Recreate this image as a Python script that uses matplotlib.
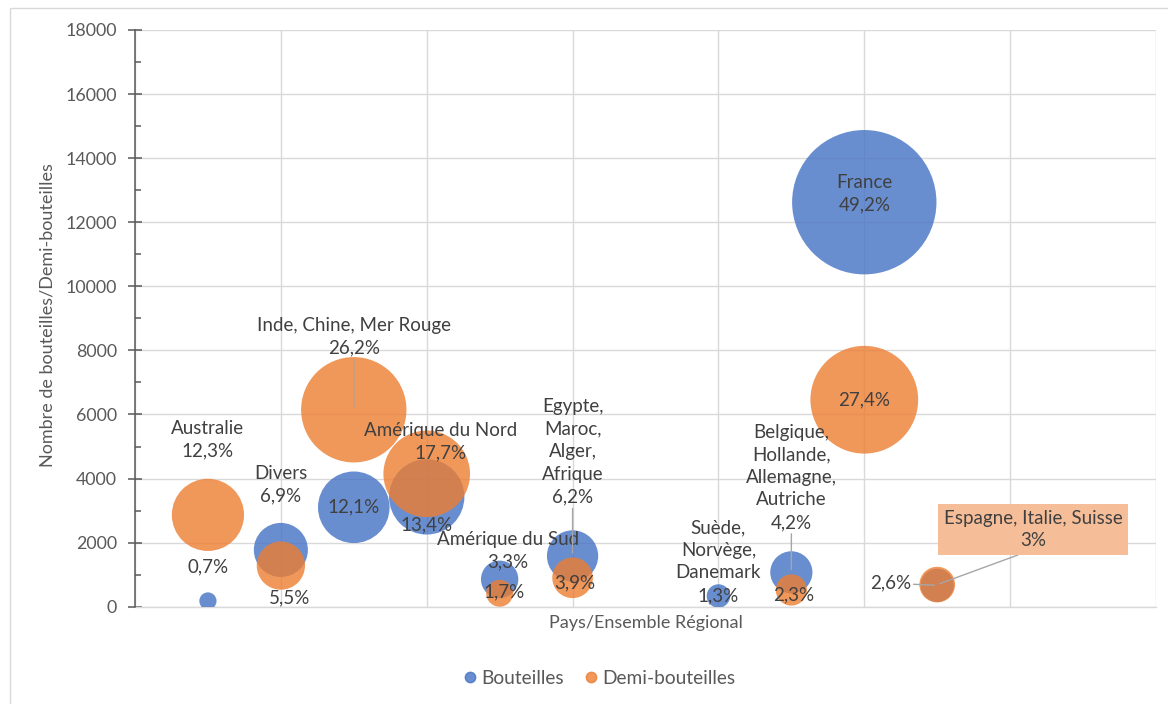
import matplotlib
matplotlib.use("Agg")
import matplotlib.pyplot as plt
from matplotlib.lines import Line2D
from matplotlib.patches import Rectangle
import numpy as np

# ---- data -------------------------------------------------------------
regions = ["Australie", "Divers", "Inde, Chine, Mer Rouge", "Amérique du Nord",
           "Amérique du Sud", "Egypte,\nMaroc,\nAlger,\nAfrique",
           "Suède,\nNorvège,\nDanemark", "Belgique,\nHollande,\nAllemagne,\nAutriche",
           "France", "Espagne, Italie, Suisse"]
x_pos = [0.5, 1.0, 1.5, 2.0, 2.5, 3.0, 4.0, 4.5, 5.0, 5.5]

bouteilles = [178, 1772, 3103, 3428, 855, 1584, 334, 1072, 12625, 668]
bouteilles_pct = [0.7, 6.9, 12.1, 13.4, 3.3, 6.2, 1.3, 4.2, 49.2, 2.6]

demi = [2866, 1284, 6147, 4147, 419, 903, np.nan, 522, 6460, 690]
demi_pct = [12.3, 5.5, 26.2, 17.7, 1.7, 3.9, np.nan, 2.3, 27.4, 3.0]

y_ticks = [0, 2000, 4000, 6000, 8000, 10000, 12000, 14000, 16000, 18000]

# ---- layout / style ---------------------------------------------------
BLUE = "#4472C4"
ORANGE = "#ED7D31"
TXT = "#404040"
AXT = "#595959"
GRID = "#D9D9D9"
FS = 13.5      # data labels
FS_AX = 13.0   # axis titles
FS_TICK = 12.8
PX = 0.72  # points per pixel at 100 dpi

# which series carries the region name in its label
name_series = ["d", "b", "d", "d", "b", "b", "b", "b", "b", "d"]
# label offsets (pixels, y up) from the bubble centre
off_b = [(0, 34), (0, 65.5), (0, 0), (0, -28), (8, 29), (0, 104), (0, 34.5), (0, 95), (0, 8.7), (-47, 2)]
off_d = [(0, 75), (9, -32), (0, 73), (14, 32), (4, 1), (2, -5), None, (2, -5), (0, 0), (96, 55)]
lead_b = {5, 7, 9}
lead_d = {2, 9}

plt.rcParams["font.family"] = ["Lato", "DejaVu Sans"]

fig = plt.figure(figsize=(11.68, 7.04), dpi=100)
ax = fig.add_axes([135 / 1168, 1 - 606.7 / 704, (1156 - 135) / 1168, (606.7 - 30) / 704])


def bubble_size(p):
    # marker area in pt^2, proportional to the share
    return 219.6 * np.asarray(p, dtype=float)


ax.scatter(x_pos, bouteilles, s=bubble_size(bouteilles_pct), color=BLUE, alpha=0.8,
           edgecolors="none", zorder=3, label="Bouteilles")
ax.scatter(x_pos, demi, s=bubble_size(demi_pct), color=ORANGE, alpha=0.8,
           edgecolors="none", zorder=4, label="Demi-bouteilles")


def pct_text(p):
    return f"{p:g}".replace(".", ",") + "%"


for i in range(len(regions)):
    for series, vals, pcts, offs, leads in (("b", bouteilles, bouteilles_pct, off_b, lead_b),
                                            ("d", demi, demi_pct, off_d, lead_d)):
        if offs[i] is None or np.isnan(vals[i]):
            continue
        txt = pct_text(pcts[i])
        if name_series[i] == series:
            txt = regions[i] + "\n" + txt
        dx, dy = offs[i]
        kw = {}
        boxed = series == "d" and i == 9
        if i in leads:
            kw["arrowprops"] = dict(arrowstyle="-", color="#A6A6A6", lw=1.0,
                                    shrinkA=0, shrinkB=2,
                                    relpos=(0.5, 0.0) if boxed else (0.5, 0.5))
        if boxed:
            kw["bbox"] = dict(boxstyle="square,pad=0.3", fc="#F6BE98", ec="none")
        ax.annotate(txt, xy=(x_pos[i], vals[i]), xytext=(dx * PX, dy * PX),
                    textcoords="offset points", ha="center", va="center",
                    fontsize=FS, color=TXT, linespacing=1.4, zorder=6,
                    annotation_clip=False, **kw)

# ---- axes -------------------------------------------------------------
ax.set_xlim(0, 7)
ax.set_ylim(0, 18000)
ax.set_xticks(np.arange(0, 8))
ax.set_yticks(y_ticks)
ax.set_yticks(np.arange(1000, 18000, 2000), minor=True)
ax.set_yticklabels([str(v) for v in y_ticks])
ax.tick_params(axis="x", length=0, labelbottom=False)
ax.tick_params(axis="y", which="major", direction="inout", length=10, width=1.1,
               color=AXT, labelsize=FS_TICK, labelcolor=AXT, pad=8)
ax.tick_params(axis="y", which="minor", direction="in", length=4, width=1.1, color=AXT)
ax.grid(True, which="major", color=GRID, lw=1.0, zorder=0)
ax.set_axisbelow(True)
for s in ("top", "right"):
    ax.spines[s].set_visible(False)
ax.spines["bottom"].set_color(GRID)
ax.spines["bottom"].set_linewidth(1.0)
ax.spines["left"].set_color(AXT)
ax.spines["left"].set_linewidth(1.1)
ax.spines["left"].set_zorder(5)

ax.set_xlabel("Pays/Ensemble Régional", fontsize=FS_AX, color=AXT)
ax.xaxis.set_label_coords(0.5, -(623 - 606.7) / 576.7)
ax.xaxis.label.set_va("center")
ax.set_ylabel("Nombre de bouteilles/Demi-bouteilles", fontsize=FS_AX, color=AXT)
ax.yaxis.set_label_coords(-(135 - 48) / 1021, 0.505)
ax.yaxis.label.set_va("center")

handles = [Line2D([], [], marker="o", ls="none", color=BLUE, alpha=0.8, markersize=7.5),
           Line2D([], [], marker="o", ls="none", color=ORANGE, alpha=0.8, markersize=7.5)]
fig.legend(handles, ["Bouteilles", "Demi-bouteilles"], loc="center",
           bbox_to_anchor=(598 / 1168, 1 - 678 / 704), ncol=2, frameon=False,
           fontsize=13.8, labelcolor=AXT, handletextpad=0.1, columnspacing=0.9,
           handlelength=1.0)

# chart frame
fig.patches.append(Rectangle((10 / 1168, -0.05), 1.1, 1 - 8 / 704 + 0.05,
                             transform=fig.transFigure, fill=False, ec=GRID, lw=1.0))

fig.savefig("out.png", dpi=100)
